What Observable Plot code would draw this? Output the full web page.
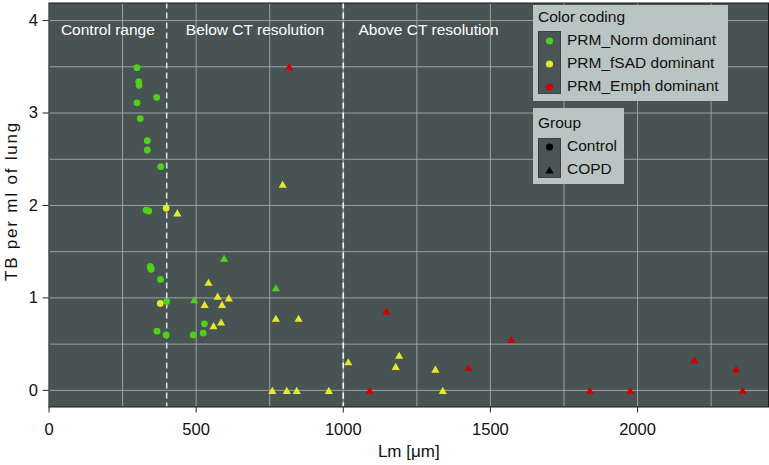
<!DOCTYPE html>
<html>
<head>
<meta charset="utf-8">
<script src="https://cdn.jsdelivr.net/npm/d3@7"></script>
<script src="https://cdn.jsdelivr.net/npm/@observablehq/plot@0.6"></script>
<style>
  html, body { margin: 0; padding: 0; background: #fff; }
  #wrap { position: relative; width: 769px; height: 465px; font-family: "Liberation Sans", Arial, Helvetica, sans-serif; }
  #wrap svg.plot { position: absolute; left: 0; top: 0; }
  .lg { position: absolute; background: #b9c4c3; }
  .lg .t { position: absolute; left: 5px; height: 20px; line-height: 20px; font-size: 15.5px; color: #111; white-space: nowrap; }
  .lg .key { position: absolute; left: 5px; width: 23px; background: #4a5555; border: 1px solid #3a4444; box-sizing: border-box; }
  .lg .lab { position: absolute; left: 34px; height: 20px; line-height: 20px; font-size: 15.5px; color: #111; white-space: nowrap; }
</style>
</head>
<body>
<div id="wrap"></div>
<script>
// ---- Data (Lm [µm], TB per ml of lung) ----
const normControl = [
  [299, 3.49], [305, 3.34], [306, 3.30], [366, 3.17], [299, 3.11], [310, 2.94],
  [334, 2.70], [334, 2.60], [380, 2.42], [330, 1.95], [339, 1.94],
  [344, 1.34], [347, 1.31], [379, 1.20], [400, 0.96], [528, 0.72],
  [367, 0.64], [398, 0.60], [490, 0.60], [524, 0.62]
];
const normCOPD = [[595, 1.43], [771, 1.11], [493, 0.98]];
const fsadControl = [[398, 1.97], [378, 0.94]];
const fsadCOPD = [
  [436, 1.92], [794, 2.23], [542, 1.17], [573, 1.02], [611, 1.00], [529, 0.93],
  [588, 0.93], [771, 0.78], [848, 0.78], [585, 0.74], [559, 0.70],
  [1017, 0.31], [1190, 0.38], [1178, 0.26], [1313, 0.23],
  [759, 0], [808, 0], [842, 0], [951, 0], [1338, 0]
];
const emphCOPD = [
  [816, 3.50], [1147, 0.86], [1571, 0.55], [1425, 0.25], [2193, 0.33], [2335, 0.23],
  [1090, 0], [1838, 0], [1975, 0], [2357, 0]
];
const classNames = ["PRM_Norm dominant", "PRM_fSAD dominant", "PRM_Emph dominant"];
const classColors = ["#4fd11c", "#e6e62a", "#d00000"];
const groupNames = ["Control", "COPD"];
const thresholds = [400, 1000];
const regionLabels = ["Control range", "Below CT resolution", "Above CT resolution"];
const regionLabelX = [200, 700, 1290];
const regionLabelY = 3.9;
const xTicks = [0, 500, 1000, 1500, 2000];
const yTicks = [0, 1, 2, 3, 4];
const xGrid = [0, 250, 500, 750, 1000, 1250, 1500, 1750, 2000, 2250];
const yGrid = [0, 0.5, 1, 1.5, 2, 2.5, 3, 3.5, 4];

// ---- Build table ----
const rows = [];
function add(arr, cls, grp) { for (const [lm, tb] of arr) rows.push({lm, tb, cls, grp}); }
add(normControl, classNames[0], "Control");
add(normCOPD, classNames[0], "COPD");
add(fsadControl, classNames[1], "Control");
add(fsadCOPD, classNames[1], "COPD");
add(emphCOPD, classNames[2], "COPD");
const regions = regionLabels.map((label, i) => ({label, x: regionLabelX[i], y: regionLabelY}));

const bg = "#485353";
const gridColor = "#a9b1b1";
const fmt = d3.format("d");

const chart = Plot.plot({
  width: 769,
  height: 465,
  marginLeft: 48.5,
  marginRight: 1,
  marginTop: 2.5,
  marginBottom: 58.5,
  style: { fontFamily: '"Liberation Sans", Arial, Helvetica, sans-serif', fontSize: "16.5px", color: "#111", background: "transparent" },
  x: { domain: [0, 2445] },
  y: { domain: [-0.18, 4.19] },
  color: { domain: classNames, range: classColors },
  marks: [
    Plot.frame({ fill: bg }),
    Plot.gridX(xGrid, { stroke: gridColor, strokeOpacity: 0.85, strokeWidth: 1 }),
    Plot.gridY(yGrid, { stroke: gridColor, strokeOpacity: 0.85, strokeWidth: 1 }),
    Plot.ruleX([thresholds[0]], { stroke: "#d8dcdc", strokeWidth: 1.6, strokeDasharray: "6,4" }),
    Plot.ruleX([thresholds[1]], { stroke: "#ffffff", strokeWidth: 1.6, strokeDasharray: "6,4" }),
    Plot.text(regions, { x: "x", y: "y", text: "label", fill: "#fff", fontSize: 15.5, textAnchor: "middle" }),
    Plot.dot(rows.filter(d => d.grp === "Control"), { x: "lm", y: "tb", fill: "cls", symbol: "circle", r: 3.4 }),
    Plot.dot(rows.filter(d => d.grp === "COPD"), { x: "lm", y: "tb", fill: "cls", symbol: "triangle", r: 3.05, dy: 1.2 }),
    Plot.frame({ stroke: "#1a1a1a", strokeWidth: 1 }),
    Plot.axisX({ ticks: xTicks, tickFormat: fmt, tickSize: 6, tickPadding: 10, label: null, stroke: "#222", fontSize: 16.5 }),
    Plot.axisY({ ticks: yTicks, tickFormat: fmt, tickSize: 6, tickPadding: 5, label: null, stroke: "#222", fontSize: 16.5 }),
    Plot.text(["Lm [μm]"], { text: d => d, frameAnchor: "bottom", dy: 45, fontSize: 17, textAnchor: "middle", lineAnchor: "middle", fill: "#111" }),
    Plot.text(["TB per ml of lung"], { text: d => d, frameAnchor: "left", dx: -37, dy: -4, rotate: -90, fontSize: 17, textAnchor: "middle", lineAnchor: "middle", fill: "#111" })
  ]
});
chart.classList.add("plot");
const wrap = document.getElementById("wrap");
wrap.appendChild(chart);

// letter spacing on y title
chart.querySelectorAll("text").forEach(t => { if (t.textContent === "TB per ml of lung") t.style.letterSpacing = "1.8px"; });

// ---- Legends (HTML overlay) ----
function legendBox(left, top, w, h) {
  const d = document.createElement("div");
  d.className = "lg";
  Object.assign(d.style, { left: left + "px", top: top + "px", width: w + "px", height: h + "px" });
  wrap.appendChild(d);
  return d;
}
function el(parent, cls, css, text) {
  const e = document.createElement("div");
  e.className = cls;
  Object.assign(e.style, css);
  if (text != null) e.textContent = text;
  parent.appendChild(e);
  return e;
}
const ns = "http://www.w3.org/2000/svg";
function swatchSvg(parent, h) {
  const s = document.createElementNS(ns, "svg");
  s.setAttribute("width", 21); s.setAttribute("height", h);
  s.style.position = "absolute"; s.style.left = "0"; s.style.top = "0";
  parent.appendChild(s);
  return s;
}

// Color coding legend
const lg1 = legendBox(533, 5, 195, 96);
el(lg1, "t", { top: "2px" }, "Color coding");
const key1 = el(lg1, "key", { top: "26px", height: "63px" });
const s1 = swatchSvg(key1, 61);
classNames.forEach((name, i) => {
  const cy = 9 + i * 23;
  const c = document.createElementNS(ns, "circle");
  c.setAttribute("cx", 10.5); c.setAttribute("cy", cy); c.setAttribute("r", 3.6);
  c.setAttribute("fill", classColors[i]);
  s1.appendChild(c);
  el(lg1, "lab", { top: (26 + cy - 10) + "px" }, name);
});

// Group legend
const lg2 = legendBox(533, 108, 91, 76);
el(lg2, "t", { top: "5px" }, "Group");
const key2 = el(lg2, "key", { top: "30px", height: "40px" });
const s2 = swatchSvg(key2, 38);
groupNames.forEach((name, i) => {
  const cy = 8 + i * 23;
  const sym = document.createElementNS(ns, "path");
  const shape = i === 0 ? d3.symbolCircle : d3.symbolTriangle;
  sym.setAttribute("d", d3.symbol(shape, i === 0 ? 40 : 30)());
  sym.setAttribute("transform", `translate(10.5,${i === 0 ? cy : cy + 1.2})`);
  sym.setAttribute("fill", "#000");
  s2.appendChild(sym);
  el(lg2, "lab", { top: (30 + cy - 10) + "px" }, name);
});
</script>
</body>
</html>
